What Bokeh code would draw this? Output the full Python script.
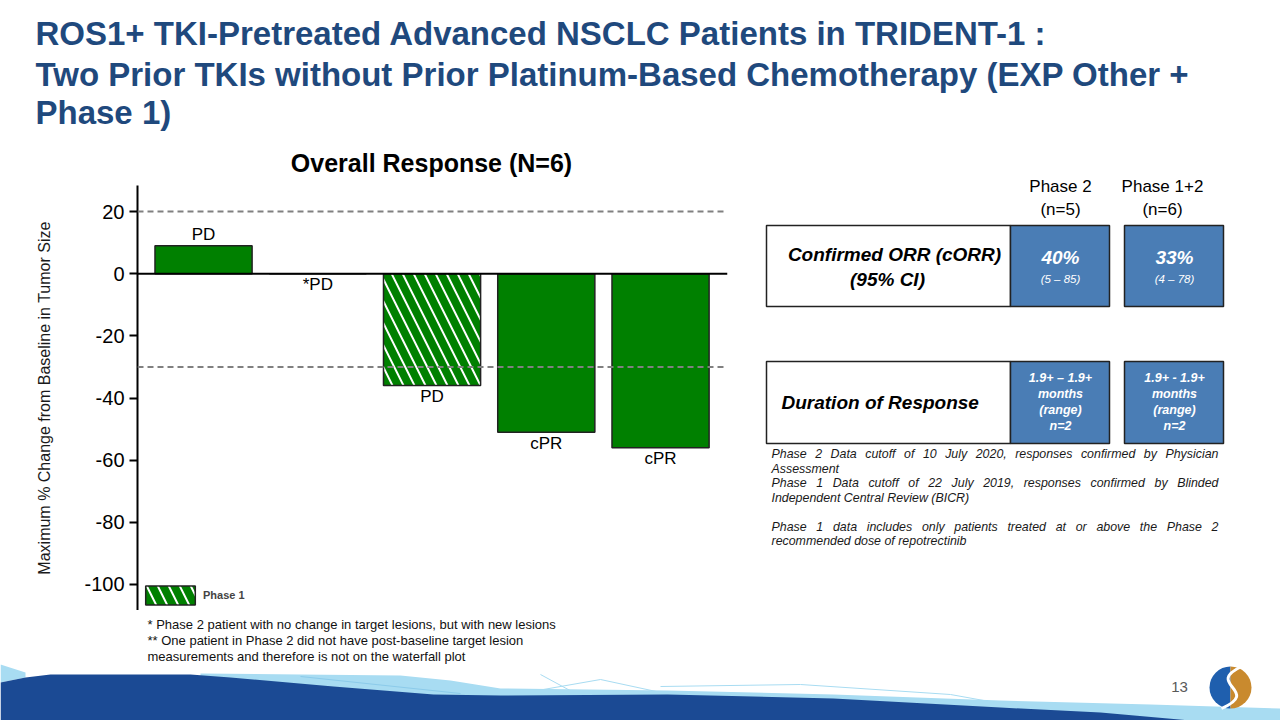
from bokeh.plotting import figure
from bokeh.models import Range1d, ColumnDataSource, Span, FixedTicker, Legend, LegendItem
from bokeh.layouts import column, row
from bokeh.embed import file_html
from bokeh.resources import INLINE
from bokeh.core.properties import value

FONT = "Liberation Sans"
TITLE_BLUE = "#1f497d"
GREEN = "#008000"
BOX_BLUE = "#4a7db5"

# ---------------- data ----------------
title_lines = [
    "ROS1+ TKI-Pretreated Advanced NSCLC Patients in TRIDENT-1 :",
    "Two Prior TKIs without Prior Platinum-Based Chemotherapy (EXP Other +",
    "Phase 1)",
]
chart_title = "Overall Response (N=6)"
patients = [1, 2, 3, 4, 5]
pct_change = [9, 0, -36, -51, -56]
phase = [2, 2, 1, 2, 2]
response = ["PD", "*PD", "PD", "cPR", "cPR"]
y_ticks = [20, 0, -20, -40, -60, -80, -100]
threshold_lines = [20, -30]
y_axis_label = "Maximum % Change from Baseline in Tumor Size"
legend_label = "Phase 1"
footnotes = [
    "* Phase 2 patient with no change in target lesions, but with new lesions",
    "** One patient in Phase 2 did not have post-baseline target lesion",
    "measurements and therefore is not on the waterfall plot",
]
col_headers = ["Phase 2", "Phase 1+2"]
col_n = ["(n=5)", "(n=6)"]
orr_label = ["Confirmed ORR (cORR)", "(95% CI)"]
orr_value = ["40%", "33%"]
orr_ci = ["(5 \u2013 85)", "(4 \u2013 78)"]
dor_label = "Duration of Response"
dor_range = ["1.9+ \u2013 1.9+", "1.9+ - 1.9+"]
dor_unit = ["months", "months"]
dor_note = ["(range)", "(range)"]
dor_n = ["n=2", "n=2"]
notes = [
    ("Phase 2 Data cutoff of 10 July 2020, responses confirmed by Physician", True),
    ("Assessment", False),
    ("Phase 1 Data cutoff of 22 July 2019, responses confirmed by Blinded", True),
    ("Independent Central Review (BICR)", False),
    ("", False),
    ("Phase 1 data includes only patients treated at or above the Phase 2", True),
    ("recommended dose of repotrectinib", False),
]
page_number = "13"

# decorative footer wave outline (page pixel coordinates)
wave_dark_x = [0, 25, 50, 190, 230, 333, 433, 500, 667, 833, 1000, 1100, 1190, 1280, 0]
wave_dark_y = [682, 677, 674, 674, 677, 686, 694, 695, 694, 698, 707, 712, 720, 730, 730]
wave_light_x = [200, 300, 400, 450, 500, 667, 833, 1000, 1150, 1280, 1280, 200]
wave_light_y = [673, 674, 675, 680, 688, 690, 694, 700, 704, 708, 730, 730]

# Arial / Liberation Sans advance widths (per 1000 em) for simple justification
_W = {" ": 278, ",": 278, ".": 278, "(": 333, ")": 333, "-": 333, "f": 278, "i": 222, "j": 222,
      "l": 222, "t": 278, "r": 333, "c": 500, "k": 500, "s": 500, "v": 500, "x": 500, "y": 500,
      "z": 500, "m": 833, "w": 722, "A": 667, "B": 667, "C": 722, "D": 722, "E": 667, "F": 611,
      "I": 278, "J": 500, "P": 667, "R": 722, "S": 667, "T": 611, "M": 833, "N": 722}


def text_w(s, size):
    return sum(_W.get(ch, 556) for ch in s) * size / 1000.0


# ---------------- helpers ----------------
def canvas(w, h, x0, y0):
    p = figure(width=w, height=h, x_range=Range1d(x0, x0 + w), y_range=Range1d(y0 + h, y0),
               output_backend="svg", toolbar_location=None, min_border=0,
               x_axis_type=None, y_axis_type=None)
    p.grid.visible = False
    p.outline_line_color = None
    p.background_fill_color = "white"
    p.border_fill_color = "white"
    return p


def txt(p, x, y, s, size, style="normal", color="black", align="left"):
    p.text(x=[x], y=[y], text=[s], text_font=value(FONT), text_font_size=value(f"{size}px"),
           text_font_style=style, text_color=color, text_align=align, text_baseline="middle")


def wave(p):
    p.patch(wave_light_x, wave_light_y, fill_color="#a8dcf2", line_color=None)
    p.patch([0, 25, 25, 0], [664, 672, 677, 682], fill_color="#a8dcf2", line_color=None)
    p.patch(wave_dark_x, wave_dark_y, fill_color="#1b4a94", line_color=None)
    p.line([520, 600, 665], [693, 679, 693], line_color="#a8dcf2", line_width=1)
    p.line([540, 575], [674, 693], line_color="#a8dcf2", line_width=1)
    p.line([660, 800, 950, 1000], [686, 684, 694, 703], line_color="#a8dcf2", line_width=1)
    p.line([300, 460], [676, 693], line_color="#8ccbea", line_width=1)


# ---------------- title ----------------
title_fig = canvas(1280, 138, 0, 0)
for line, yc in zip(title_lines, [33, 74, 112]):
    txt(title_fig, 35, yc, line, 33, "bold", TITLE_BLUE, "left")

# ---------------- chart header ----------------
head_fig = figure(width=740, height=47, x_range=Range1d(137, 727), y_range=Range1d(185, 138),
                  output_backend="svg", toolbar_location=None, min_border_left=137,
                  min_border_right=13, min_border_top=0, min_border_bottom=0,
                  x_axis_type=None, y_axis_type=None)
head_fig.grid.visible = False
head_fig.outline_line_color = None
txt(head_fig, 431, 162, chart_title, 25, "bold", "black", "center")

# ---------------- waterfall chart ----------------
chart = figure(width=740, height=425, x_range=Range1d(0.422, 5.586), y_range=Range1d(-108.37, 28.37),
               output_backend="svg", toolbar_location=None, min_border_left=137, min_border_right=13,
               min_border_top=0, min_border_bottom=0, x_axis_type=None)
chart.grid.visible = False
chart.outline_line_color = None
chart.background_fill_color = "white"
chart.border_fill_color = "white"

p2 = [i for i, ph in enumerate(phase) if ph == 2]
p1 = [i for i, ph in enumerate(phase) if ph == 1]
src2 = ColumnDataSource(dict(x=[patients[i] for i in p2], top=[pct_change[i] for i in p2]))
src1 = ColumnDataSource(dict(x=[patients[i] for i in p1], top=[pct_change[i] for i in p1]))

r2 = chart.vbar(x="x", top="top", bottom=0, width=0.85, source=src2,
                fill_color=GREEN, line_color="#222222", line_width=1.5)
r1 = chart.vbar(x="x", top="top", bottom=0, width=0.85, source=src1,
                fill_color=GREEN, line_color="#222222", line_width=1.5,
                hatch_pattern="\\", hatch_color="white", hatch_scale=22, hatch_weight=2)

lab_src = ColumnDataSource(dict(x=patients, y=pct_change, text=response,
                                off=[-11 if v > 0 else 11 for v in pct_change]))
chart.text(x="x", y="y", text="text", y_offset="off", source=lab_src, text_font=value(FONT),
           text_font_size=value("17px"), text_align="center", text_baseline="middle", text_color="black")

for v in threshold_lines:
    chart.add_layout(Span(location=v, dimension="width", line_color="#808080",
                          line_dash="6 4", line_width=2))
chart.add_layout(Span(location=0, dimension="width", line_color="black", line_width=2))

ax = chart.yaxis[0]
ax.ticker = FixedTicker(ticks=y_ticks)
ax.major_label_overrides = {t: str(t) for t in y_ticks}
ax.axis_line_width = 2
ax.axis_line_color = "black"
ax.major_tick_line_width = 2
ax.major_tick_out = 8
ax.major_tick_in = 0
ax.minor_tick_line_color = None
ax.major_label_text_font = FONT
ax.major_label_text_font_size = "20px"
ax.major_label_text_color = "black"
ax.major_label_standoff = 5
ax.axis_label = y_axis_label
ax.axis_label_text_font = FONT
ax.axis_label_text_font_size = "16px"
ax.axis_label_text_font_style = "normal"
ax.axis_label_text_color = "#1a1a1a"
ax.axis_label_standoff = 28

legend = Legend(items=[LegendItem(label=legend_label, renderers=[r1])], location=(2, 3),
                glyph_width=62, glyph_height=24, label_standoff=2, padding=0, margin=0, spacing=0,
                border_line_color=None, background_fill_alpha=0, label_text_font=FONT,
                label_text_font_size="11px", label_text_font_style="bold", label_height=24)
chart.add_layout(legend)

# ---------------- right panel ----------------
right = canvas(540, 472, 740, 138)
col_cx = [1060, 1174]
for cx, h, n in zip([1060, 1162], col_headers, col_n):
    txt(right, cx, 186, h, 17, align="center")
    txt(right, cx, 209, n, 17, align="center")

rows_y = [(225, 306), (361, 443)]
for (t, b) in rows_y:
    right.quad(left=[766], right=[1010], top=[t], bottom=[b], fill_color="white",
               line_color="#222222", line_width=1.5)
    right.quad(left=[1010, 1124], right=[1109, 1223], top=[t, t], bottom=[b, b],
               fill_color=BOX_BLUE, line_color="#222222", line_width=1.5)

txt(right, 894, 254, orr_label[0], 19, "bold italic", align="center")
txt(right, 887, 279, orr_label[1], 19, "bold italic", align="center")
txt(right, 781, 402, dor_label, 19, "bold italic", align="left")

for cx, v, ci in zip(col_cx, orr_value, orr_ci):
    txt(right, cx, 257, v, 19, "bold italic", "white", "center")
    txt(right, cx, 278, ci, 11.5, "italic", "white", "center")

for cx, a, b, c, d in zip(col_cx, dor_range, dor_unit, dor_note, dor_n):
    txt(right, cx, 377, a, 12.5, "bold italic", "white", "center")
    txt(right, cx, 393, b, 12.5, "bold italic", "white", "center")
    txt(right, cx, 409, c, 12.5, "bold italic", "white", "center")
    txt(right, cx, 425, d, 12.5, "bold italic", "white", "center")

NOTE_SIZE = 12.4
NOTE_L, NOTE_R = 771, 1218
for (s, just), y in zip(notes, [453, 468, 482, 497, 512, 526, 540]):
    if not s:
        continue
    if just:
        words = s.split(" ")
        widths = [text_w(w_, NOTE_SIZE) for w_ in words]
        gap = (NOTE_R - NOTE_L - sum(widths)) / (len(words) - 1)
        xs, cur = [], NOTE_L
        for wd in widths:
            xs.append(cur)
            cur += wd + gap
        right.text(x=xs, y=[y] * len(words), text=words, text_font=value(FONT),
                   text_font_size=value(f"{NOTE_SIZE}px"), text_font_style="italic",
                   text_color="#1a1a1a", text_align="left", text_baseline="middle")
    else:
        txt(right, NOTE_L, y, s, NOTE_SIZE, "italic", "#1a1a1a")

# ---------------- bottom strip ----------------
bottom = canvas(1280, 110, 0, 610)
for s, y in zip(footnotes, [624, 640, 656]):
    txt(bottom, 147, y, s, 13, "normal", "#111111")
wave(bottom)
txt(bottom, 1179, 686, page_number, 15, "normal", "#595959", "center")
bottom.wedge(x=[1230], y=[687], radius=21, start_angle=90, end_angle=270, start_angle_units="deg",
             end_angle_units="deg", fill_color="#1f5fae", line_color=None)
bottom.wedge(x=[1230], y=[687], radius=21, start_angle=270, end_angle=90, start_angle_units="deg",
             end_angle_units="deg", fill_color="#c98a2e", line_color=None)
bottom.bezier(x0=[1241], y0=[666], x1=[1221], y1=[708], cx0=[1203], cy0=[684], cx1=[1262], cy1=[690],
              line_color="white", line_width=3)

layout = column(title_fig, row(column(head_fig, chart), right), bottom)

open("out.html", "w").write(file_html(layout, INLINE))
